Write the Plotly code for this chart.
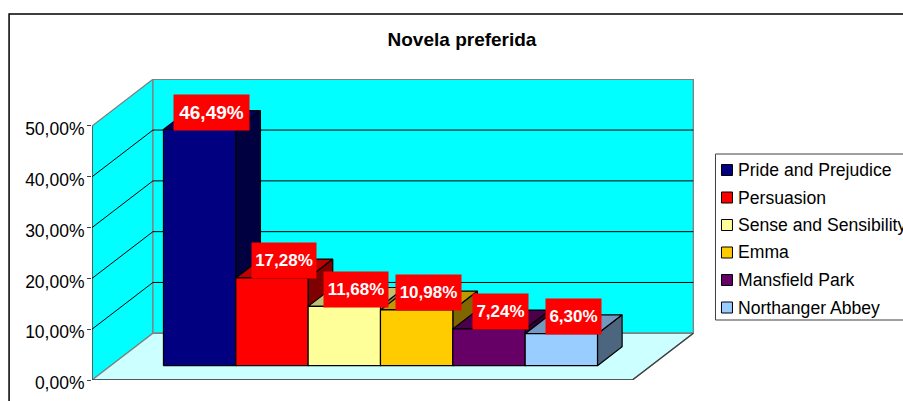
import plotly.graph_objects as go

novels = ["Pride and Prejudice", "Persuasion", "Sense and Sensibility", "Emma", "Mansfield Park", "Northanger Abbey"]
shares = [0.4649, 0.1728, 0.1168, 0.1098, 0.0724, 0.0630]
colors = ["#000080", "#FF0000", "#FFFF99", "#FFCC00", "#660066", "#99CCFF"]
ticks = [0, 0.1, 0.2, 0.3, 0.4, 0.5]

# fake 3d: x is in bar widths, depth d runs 0..1 from the front edge to the back wall
DX, DY = 0.8425, 0.092
FLOOR_W = 7.47
GAP = 0.73
D0, D1 = 0.306, 0.71
LABEL_W = {0: 75, 1: 64, 2: 64, 3: 65, 4: 55, 5: 55}
LABEL_SIZE = {0: 19, 1: 17, 2: 17, 3: 17, 4: 17, 5: 17}

# plot area in picture pixels
PLOT_L, PLOT_W = 91.5, 602.5
PLOT_B, PLOT_H = 380, 301


def px(x, d):
    return x + d * DX


def py(y, d):
    return y + d * DY


def paper_x(pixel):
    return (pixel - PLOT_L) / PLOT_W


def paper_y(pixel):
    return (PLOT_B - pixel) / PLOT_H


def shade(hex_color, k):
    r, g, b = [int(hex_color[i:i + 2], 16) for i in (1, 3, 5)]
    return "rgb({},{},{})".format(int(r * k), int(g * k), int(b * k))


def face(corners, fill, line="#000000", width=1.2):
    return go.Scatter(x=[px(c[0], c[2]) for c in corners] + [px(corners[0][0], corners[0][2])],
                      y=[py(c[1], c[2]) for c in corners] + [py(corners[0][1], corners[0][2])],
                      mode="lines", fill="toself", fillcolor=fill,
                      line=dict(color=line, width=width),
                      showlegend=False, hoverinfo="skip", cliponaxis=False)


def edge(corners, color, width=1.0):
    return go.Scatter(x=[px(c[0], c[2]) for c in corners], y=[py(c[1], c[2]) for c in corners],
                      mode="lines", line=dict(color=color, width=width),
                      showlegend=False, hoverinfo="skip", cliponaxis=False)


top_v = ticks[-1]
fig = go.Figure()

# walls and floor
fig.add_trace(face([(0, 0, 0), (0, top_v, 0), (0, top_v, 1), (0, 0, 1)], "#00FFFF", "#808080", 1.3))
fig.add_trace(face([(0, 0, 1), (0, top_v, 1), (FLOOR_W, top_v, 1), (FLOOR_W, 0, 1)], "#00FFFF", "#808080", 1.3))
fig.add_trace(face([(0, 0, 0), (0, 0, 1), (FLOOR_W, 0, 1), (FLOOR_W, 0, 0)], "#CCFFFF", "#808080", 1.3))
fig.add_trace(edge([(FLOOR_W, 0, 1), (FLOOR_W, 0, 0), (0, 0, 0), (0, top_v, 0)], "#404040", 1.3))

for v in ticks[1:-1]:
    fig.add_trace(edge([(0, v, 0), (0, v, 1), (FLOOR_W, v, 1)], "#000000"))

# bars, left to right so the next bar hides the side of the one before
for i, (share, color) in enumerate(zip(shares, colors)):
    x0 = GAP + i
    x1 = x0 + 1
    fig.add_trace(face([(x1, 0, D0), (x1, share, D0), (x1, share, D1), (x1, 0, D1)], shade(color, 0.5)))
    fig.add_trace(face([(x0, share, D0), (x0, share, D1), (x1, share, D1), (x1, share, D0)], shade(color, 0.75)))
    fig.add_trace(face([(x0, 0, D0), (x0, share, D0), (x1, share, D0), (x1, 0, D0)], color))

for i, share in enumerate(shares):
    fig.add_annotation(x=px(GAP + i + 0.5, 0.5), y=py(share, 0.5), yshift=8,
                       text="{:.2f}%".format(share * 100).replace(".", ","),
                       showarrow=False, xanchor="center", yanchor="middle",
                       width=LABEL_W[i], height=35, borderpad=0, bgcolor="#FF0000",
                       font=dict(family="Liberation Sans", size=LABEL_SIZE[i], color="#FFFFFF", weight="bold"))

# chart frame, runs off the right and bottom of the picture like the original
fig.add_shape(type="rect", xref="paper", yref="paper", x0=paper_x(8.5), x1=1.6, y0=-0.2, y1=paper_y(14),
              line=dict(color="#000000", width=1.5), layer="below")

# legend by hand, the built-in one keeps its swatches too far from the text
fig.add_shape(type="rect", xref="paper", yref="paper", x0=paper_x(715.5), x1=1.6, y0=paper_y(320), y1=paper_y(154),
              line=dict(color="#404040", width=1), fillcolor="#FFFFFF", layer="below")
for i, (name, color) in enumerate(zip(novels, colors)):
    row = 170 + 27.5 * i
    fig.add_shape(type="rect", xref="paper", yref="paper", x0=paper_x(721.5), x1=paper_x(732.5),
                  y0=paper_y(row + 5.5), y1=paper_y(row - 5.5),
                  line=dict(color="#000000", width=1), fillcolor=color)
    fig.add_annotation(xref="paper", yref="paper", x=paper_x(736), y=paper_y(row), text=name,
                       showarrow=False, xanchor="left", yanchor="middle",
                       font=dict(family="Liberation Sans", size=17.6, color="#000000"))

fig.update_xaxes(range=[0, PLOT_W / 72.4], visible=False, fixedrange=True)
fig.update_yaxes(range=[0, 0.5925], tickvals=ticks, tickformat=".2%", ticks="outside", ticklen=4,
                 tickcolor="#404040", showgrid=False, zeroline=False, showline=False,
                 ticklabelshift=3, ticklabelstandoff=-1,
                 tickfont=dict(family="Liberation Sans", size=17.5, color="#000000"))
fig.update_layout(width=903, height=401, autosize=False, separators=",.", showlegend=False,
                  margin=dict(l=PLOT_L, r=903 - PLOT_L - PLOT_W, t=PLOT_B - PLOT_H, b=401 - PLOT_B, autoexpand=False),
                  paper_bgcolor="#FFFFFF", plot_bgcolor="rgba(0,0,0,0)",
                  title=dict(text="Novela preferida", x=462 / 903, y=1 - 39 / 401, xanchor="center", yanchor="middle",
                             font=dict(family="Liberation Sans", size=19, color="#000000", weight="bold")))

fig.write_html("out.html", config={"displayModeBar": False},
               post_script="document.body.style.margin='0';")
